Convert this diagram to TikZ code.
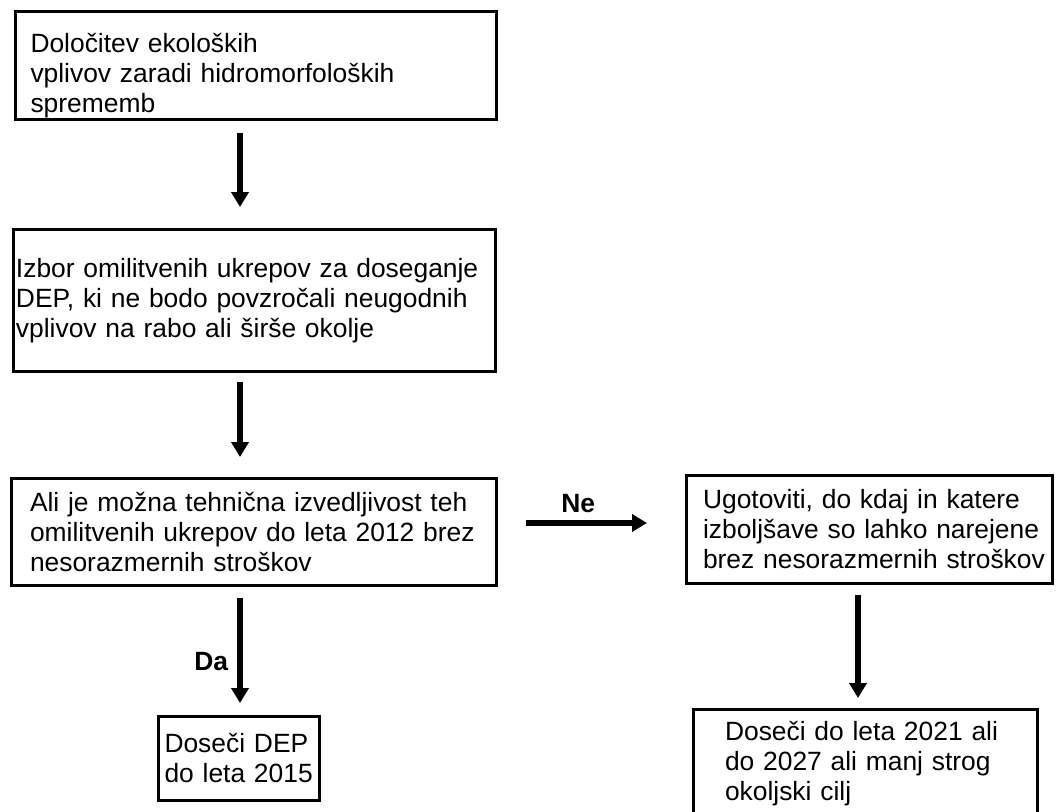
\documentclass[tikz,border=0pt]{standalone}
\usepackage{fontspec}
\setmainfont{Liberation Sans}
\usetikzlibrary{arrows.meta}
\tikzset{every node/.style={font=\fontsize{26.4}{30}\selectfont}}

\begin{document}
\begin{tikzpicture}[x=1pt, y=-1pt,
    okvir/.style={draw, line width=3pt, align=left, inner ysep=0pt, outer sep=0pt, anchor=north west},
    puscica/.style={line width=6pt, -{Triangle[length=15pt, width=17pt]}},
    oznaka/.style={font=\fontsize{26.4}{30}\selectfont\bfseries, inner sep=0pt}]
  \useasboundingbox (0,0) rectangle (1056,811);
  \coordinate (osL) at (240,0);
  \coordinate (osR) at (858,0);
  % left column
  \node[okvir, minimum width=481pt, minimum height=108pt, inner xsep=15pt, text width=451pt, text height=39pt] (B1) at (15.5,11.5)
    {Določitev ekoloških\\vplivov zaradi hidromorfoloških\\sprememb};
  \node[okvir, minimum width=482pt, minimum height=142pt, inner xsep=2.5pt, text width=477pt] (B2) at (13.5,229.5)
    {Izbor omilitvenih ukrepov za doseganje\\DEP, ki ne bodo povzročali neugodnih\\vplivov na rabo ali širše okolje};
  \node[okvir, minimum width=485pt, minimum height=107pt, inner xsep=18.5pt, text width=448pt] (B3) at (11.5,478.5)
    {Ali je možna tehnična izvedljivost teh\\omilitvenih ukrepov do leta 2012 brez\\nesorazmernih stroškov};
  \node[okvir, minimum width=161pt, minimum height=84pt, inner xsep=6pt, text width=149pt] (B5) at (158.5,716.5)
    {Doseči DEP\\do leta 2015};
  % right column
  \node[okvir, minimum width=366pt, minimum height=108pt, inner xsep=16.5pt, text width=333pt] (B4) at (686.5,475.5)
    {\mbox{Ugotoviti, do kdaj in katere}\\\mbox{izboljšave so lahko narejene}\\\mbox{brez nesorazmernih stroškov}};
  \node[okvir, minimum width=344pt, minimum height=107.5pt, inner xsep=31.5pt, text width=281pt] (B6) at (693.5,709.5)
    {Doseči do leta 2021 ali\\do 2027 ali manj strog\\okoljski cilj};
  \coordinate (neStart) at ([yshift=9pt]B3.east);
  % arrows
  \draw[puscica, shorten <=13.5pt, shorten >=22.5pt] (B1.south -| osL) -- (B2.north -| osL);
  \draw[puscica, shorten <=10.5pt, shorten >=21.5pt] (B2.south -| osL) -- (B3.north -| osL);
  \draw[puscica, shorten <=12.5pt, shorten >=13.5pt] (B3.south -| osL) -- node[oznaka, pos=0.58, left=9pt] {Da} (B5.north -| osL);
  \draw[puscica, shorten <=29.5pt, shorten >=39.5pt] (neStart) -- node[oznaka, pos=0.43, above=7pt] {Ne} (neStart -| B4.west);
  \draw[puscica, shorten <=11.5pt, shorten >=11.5pt] (B4.south -| osR) -- (B6.north -| osR);
\end{tikzpicture}
\end{document}
